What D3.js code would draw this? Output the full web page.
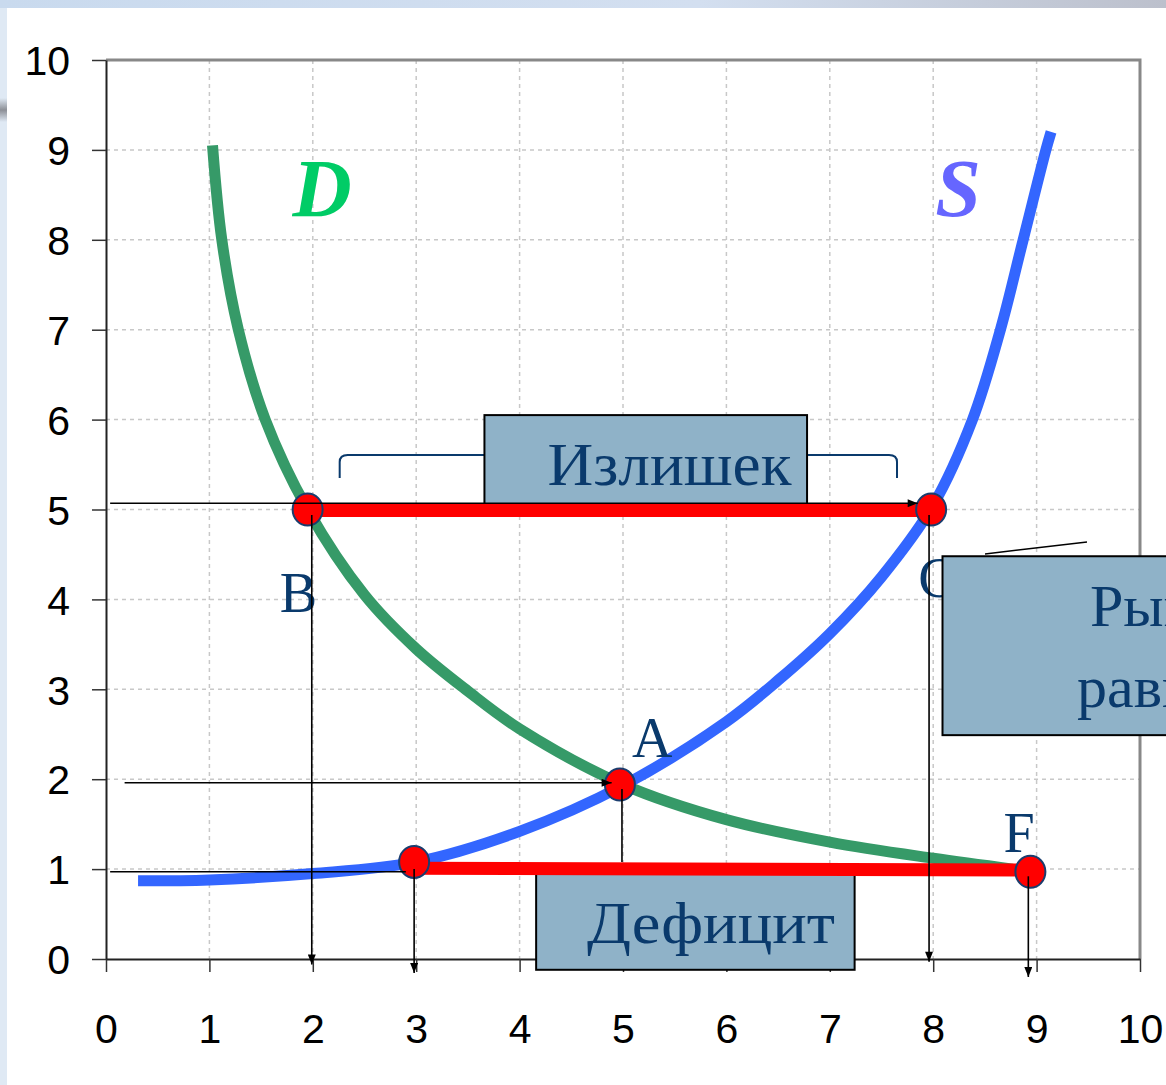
<!DOCTYPE html>
<html><head><meta charset="utf-8">
<script src="https://cdn.jsdelivr.net/npm/d3@7"></script>
<style>html,body{margin:0;padding:0;overflow:hidden;background:#fff}</style>
</head><body>
<script>
// ---- data ----
const xTickLabels = [0,1,2,3,4,5,6,7,8,9,10];
const yTickLabels = [0,1,2,3,4,5,6,7,8,9,10];
const demandQ = [1.03,1.12,1.28,1.54,1.95,2.5,3.0,3.5,4.0,5.0,6.0,7.0,8.0,8.77];
const demandP = [9.05,8.0,7.0,6.0,5.0,4.05,3.45,2.98,2.56,1.94,1.55,1.30,1.12,1.0];
const supplyQ = [0.31,1.0,2.0,3.0,4.0,5.0,6.0,6.5,7.0,7.5,8.0,8.38,8.65,8.87,9.09,9.14];
const supplyP = [0.87,0.88,0.95,1.08,1.42,1.93,2.64,3.1,3.62,4.25,5.05,6.0,7.0,8.0,9.0,9.2];
const pointNames = ["B","C","A","","F"];
const pointQ = [1.95,7.98,4.97,2.98,8.94];
const pointP = [5.0,5.0,1.94,1.08,0.97];
const surplusQ = [1.95,7.98];
const surplusP = [4.99,4.99];
const deficitQ = [2.98,8.94];
const deficitP = [1.01,0.99];
const curveNames = ["D","S"];
const boxTexts = ["Излишек","Дефицит","Рыночное","равновесие"];

// ---- layout ----
const W = 1166, H = 1085;
const svg = d3.select("body").append("svg").attr("width", W).attr("height", H)
  .style("display","block");
const x = d3.scaleLinear().domain([0,10]).range([106,1140]);
const y = d3.scaleLinear().domain([0,10]).range([959,60]);

const defs = svg.append("defs");
const tg = defs.append("linearGradient").attr("id","topbar").attr("x1","0").attr("x2","1");
tg.append("stop").attr("offset","0").attr("stop-color","#c9daee");
tg.append("stop").attr("offset","0.6").attr("stop-color","#d3dff0");
tg.append("stop").attr("offset","1").attr("stop-color","#bcc0cc");
const vg = defs.append("linearGradient").attr("id","vline").attr("x1","0").attr("x2","0").attr("y1","0").attr("y2","1");
vg.append("stop").attr("offset","0").attr("stop-color","#ffffff");
vg.append("stop").attr("offset","1").attr("stop-color","#1f4f8a");
const sg = defs.append("linearGradient").attr("id","shadow").attr("x1","0").attr("x2","0").attr("y1","0").attr("y2","1");
sg.append("stop").attr("offset","0").attr("stop-color","#dfe9f4");
sg.append("stop").attr("offset","0.5").attr("stop-color","#8c8f96");
sg.append("stop").attr("offset","1").attr("stop-color","#dfe9f4");
defs.append("marker").attr("id","arr").attr("viewBox","0 0 10 8").attr("refX",10).attr("refY",4)
  .attr("markerWidth",11).attr("markerHeight",8).attr("markerUnits","userSpaceOnUse").attr("orient","auto")
  .append("path").attr("d","M0,0L10,4L0,8Z").attr("fill","#000");

// window frame
svg.append("rect").attr("width",W).attr("height",H).attr("fill","#dfe9f4");
svg.append("rect").attr("width",W).attr("height",8).attr("fill","url(#topbar)");
svg.append("rect").attr("x",0).attr("y",98).attr("width",7).attr("height",24).attr("fill","url(#shadow)");
svg.append("rect").attr("x",7).attr("y",8).attr("width",W-7).attr("height",H-8).attr("fill","#fff");

// grid
const grid = svg.append("g");
grid.selectAll("line.gx").data(xTickLabels.filter(v=>v>0&&v<10)).join("line")
  .attr("x1",d=>x(d)).attr("x2",d=>x(d)).attr("y1",y(10)).attr("y2",y(0))
  .attr("stroke","#c8c8c8").attr("stroke-width",1.5).attr("stroke-dasharray","4,4");
grid.selectAll("line.gy").data(yTickLabels.filter(v=>v>0&&v<10)).join("line")
  .attr("y1",d=>y(d)).attr("y2",d=>y(d)).attr("x1",x(0)).attr("x2",x(10))
  .attr("stroke","#c8c8c8").attr("stroke-width",1.5).attr("stroke-dasharray","4,4");

// frame: top & right gray
svg.append("path").attr("d",`M${x(0)},${y(10)}H${x(10)}V${y(0)}`).attr("fill","none")
  .attr("stroke","#888").attr("stroke-width",3);

// axes
const xAxis = d3.axisBottom(x).tickValues(xTickLabels).tickSize(13).tickSizeOuter(0).tickPadding(42);
const yAxis = d3.axisLeft(y).tickValues(yTickLabels).tickSize(14).tickSizeOuter(0).tickPadding(22);
const gx = svg.append("g").attr("transform",`translate(0,${y(0)})`).call(xAxis);
const gy = svg.append("g").attr("transform",`translate(${x(0)},0)`).call(yAxis);
[gx,gy].forEach(g=>{
  g.select(".domain").attr("stroke","#222").attr("stroke-width",2);
  g.selectAll(".tick line").attr("stroke","#333").attr("stroke-width",1.5);
  g.selectAll(".tick text").attr("fill","#000").style("font-family","'Liberation Sans', Arial, sans-serif")
    .style("font-size","41px");
});
gy.selectAll(".tick text").attr("dy","0.36em");
gx.selectAll(".tick text").attr("dy","0.71em");

// curves
const line = d3.line().x(d=>x(d[0])).y(d=>y(d[1])).curve(d3.curveCatmullRom.alpha(0.5));
const demand = demandQ.map((q,i)=>[q,demandP[i]]);
const supply = supplyQ.map((q,i)=>[q,supplyP[i]]);
svg.append("path").attr("d",line(demand)).attr("fill","none").attr("stroke","#369a68").attr("stroke-width",11);
svg.append("path").attr("d",line(supply)).attr("fill","none").attr("stroke","#3366ff").attr("stroke-width",11);

// boxes
const boxFill = "#8fb2c8";
const textFont = "'Liberation Serif', 'Times New Roman', serif";
const textColor = "#0a3a6c";
// surplus box + bracket
svg.append("line").attr("x1",x(4.96)).attr("x2",x(4.96)).attr("y1",345).attr("y2",y(6.05))
  .attr("stroke","url(#vline)").attr("stroke-width",2);
svg.append("path").attr("d",`M${x(2.26)},478 V462 Q${x(2.26)},455 ${x(2.26)+8},455 H${x(3.66)} M${x(6.78)},455 H${x(7.65)-8} Q${x(7.65)},455 ${x(7.65)},462 V478`)
  .attr("fill","none").attr("stroke","#0a3a6c").attr("stroke-width",2);
svg.append("rect").attr("x",x(3.66)).attr("y",y(6.05)).attr("width",x(6.78)-x(3.66)).attr("height",y(5.03)-y(6.05))
  .attr("fill",boxFill).attr("stroke","#000").attr("stroke-width",2);
svg.append("text").attr("x",x(6.63)).attr("y",485).attr("text-anchor","end")
  .attr("textLength",244).attr("lengthAdjust","spacingAndGlyphs")
  .style("font-family",textFont).style("font-size","61px").attr("fill",textColor).text(boxTexts[0]);
// deficit box
svg.append("rect").attr("x",x(4.16)).attr("y",y(0.99)).attr("width",x(7.24)-x(4.16)).attr("height",y(-0.12)-y(0.99))
  .attr("fill",boxFill).attr("stroke","#000").attr("stroke-width",2);
svg.append("text").attr("x",x(7.05)).attr("y",943).attr("text-anchor","end")
  .attr("textLength",248).attr("lengthAdjust","spacingAndGlyphs")
  .style("font-family",textFont).style("font-size","60px").attr("fill",textColor).text(boxTexts[1]);

// point labels (C first, under market box)
const labelOffsets = {B:[-28,102], C:[-13,87], A:[12,-28], F:[-27,-20]};
svg.selectAll("text.pl").data(pointNames.map((n,i)=>({n,q:pointQ[i],p:pointP[i]})).filter(d=>d.n))
  .join("text").attr("class","pl")
  .attr("x",d=>x(d.q)+labelOffsets[d.n][0]).attr("y",d=>y(d.p)+labelOffsets[d.n][1])
  .style("font-family",textFont).style("font-size","56px").attr("fill",textColor).text(d=>d.n);

// callout and market equilibrium box
svg.append("line").attr("x1",985).attr("y1",554).attr("x2",1087).attr("y2",542).attr("stroke","#000").attr("stroke-width",1.5);
svg.append("rect").attr("x",x(8.09)).attr("y",y(4.48)).attr("width",300).attr("height",y(2.49)-y(4.48))
  .attr("fill",boxFill).attr("stroke","#000").attr("stroke-width",2);
svg.append("text").attr("x",1090).attr("y",626).style("font-family",textFont).style("font-size","60px")
  .attr("fill",textColor).text(boxTexts[2]);
svg.append("text").attr("x",1077).attr("y",707).style("font-family",textFont).style("font-size","60px")
  .attr("fill",textColor).text(boxTexts[3]);

// red lines
svg.append("line").attr("x1",x(surplusQ[0])).attr("y1",y(surplusP[0])).attr("x2",x(surplusQ[1])).attr("y2",y(surplusP[1]))
  .attr("stroke","#ff0000").attr("stroke-width",13);
svg.append("line").attr("x1",x(deficitQ[0])).attr("y1",y(deficitP[0])).attr("x2",x(deficitQ[1])).attr("y2",y(deficitP[1]))
  .attr("stroke","#ff0000").attr("stroke-width",13);

// dots
svg.selectAll("ellipse.pt").data(pointQ.map((q,i)=>[q,pointP[i]])).join("ellipse")
  .attr("cx",d=>x(d[0])).attr("cy",d=>y(d[1])).attr("rx",15).attr("ry",16)
  .attr("fill","#ff0000").attr("stroke","#1a3d6e").attr("stroke-width",2);

// guide lines (on top)
const guides = svg.append("g").attr("stroke","#000").attr("stroke-width",1.6).attr("fill","none");
function guide(q1,p1,q2,p2,arrow){
  const l = guides.append("line").attr("x1",x(q1)).attr("y1",y(p1)).attr("x2",x(q2)).attr("y2",y(p2));
  if(arrow) l.attr("marker-end","url(#arr)");
}
guide(0.04,5.07,7.85,5.07,true);
guide(pointQ[0]+0.04,pointP[0]-0.06,pointQ[0]+0.04,-0.06,true);
guide(0.18,1.96,4.89,1.96,true);
guide(pointQ[2]+0.02,pointP[2]-0.05,pointQ[2]+0.02,1.08,false);
guide(0.04,0.97,2.9,0.97,false);
guide(pointQ[3],pointP[3]-0.08,pointQ[3],-0.155,true);
guide(pointQ[1]-0.02,pointP[1]-0.06,pointQ[1]-0.02,-0.03,true);
guide(pointQ[4]-0.02,pointP[4]-0.05,pointQ[4]-0.02,-0.2,true);

// curve names
svg.append("text").attr("x",322).attr("y",216).attr("text-anchor","middle")
  .style("font-family",textFont).style("font-size","82px").style("font-weight","bold").style("font-style","italic")
  .attr("fill","#00cc66").text(curveNames[0]);
svg.append("text").attr("x",958).attr("y",216).attr("text-anchor","middle")
  .style("font-family",textFont).style("font-size","82px").style("font-weight","bold").style("font-style","italic")
  .attr("fill","#6666ff").text(curveNames[1]);
</script>
</body></html>
